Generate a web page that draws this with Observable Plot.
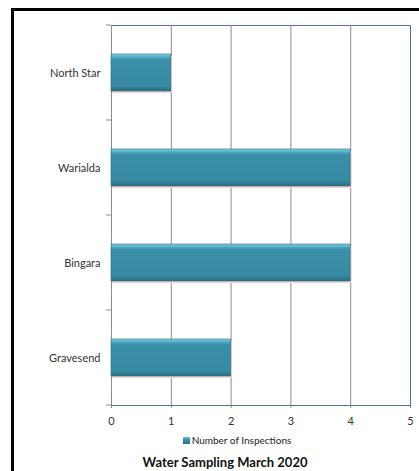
<!DOCTYPE html>
<html><head><meta charset="utf-8">
<script src="https://cdn.jsdelivr.net/npm/d3@7"></script>
<script src="https://cdn.jsdelivr.net/npm/@observablehq/plot@0.6"></script>
<style>
body{margin:0;background:#fff;width:419px;height:471px;overflow:hidden;position:relative;font-family:Lato,"Open Sans",sans-serif}
#frame{position:absolute;left:11px;top:8px;width:420px;height:470px;border-left:3px solid #000;border-top:3px solid #000;box-sizing:border-box}
#chart{position:absolute;left:0;top:0}
#chart svg text{fill:#333}
#legend{position:absolute;top:434px;left:0;width:474px;text-align:center;font-size:10px;color:#222;line-height:12px}
#legend .sw{display:inline-block;width:7px;height:7px;margin-right:2px;vertical-align:0px;background:linear-gradient(#6cc3da,#3a8da6 40%,#2d7488)}
#title{position:absolute;top:455px;left:0;width:450px;text-align:center;font-size:13px;font-weight:bold;color:#111;line-height:15px}
</style></head>
<body>
<div id="frame"></div>
<div id="chart"></div>
<div id="legend"></div>
<div id="title"></div>
<script>
const sites = ["North Star", "Warialda", "Bingara", "Gravesend"];
const inspections = [1, 4, 4, 2];
const xTicks = [0, 1, 2, 3, 4, 5];
const seriesName = "Number of Inspections";
const chartTitle = "Water Sampling March 2020";

const data = sites.map((s, i) => ({site: s, value: inspections[i]}));

const plot = Plot.plot({
  width: 419,
  height: 430,
  marginLeft: 111,
  marginRight: 9,
  marginTop: 25,
  marginBottom: 25,
  style: {fontFamily: "Lato, 'Open Sans', sans-serif", fontSize: "11px", color: "#8c8c8c", background: "transparent"},
  x: {domain: [0, 5], ticks: xTicks, tickFormat: "d", tickSize: 3, tickPadding: 9, line: true, label: null},
  y: {domain: sites, paddingInner: 0.61, paddingOuter: 0.305, tickSize: 0, tickPadding: 11, label: null},
  marks: [
    Plot.frame({stroke: "#4f6fa8"}),
    Plot.ruleX(xTicks.slice(0, -1), {stroke: "#8c8c8c"}),
    Plot.barX(data, {x: "value", y: "site", fill: "#f3d3d3", dy: 2, dx: 1}),
    Plot.barX(data, {x: "value", y: "site", fill: "url(#barGrad)", stroke: "#2a6a7c", strokeWidth: 0.6})
  ]
});
document.getElementById("chart").appendChild(plot);

const svg = d3.select(plot);
const defs = svg.insert("defs", ":first-child");
const g = defs.append("linearGradient").attr("id", "barGrad").attr("x1", 0).attr("y1", 0).attr("x2", 0).attr("y2", 1);
[[0, "#7fd0e6"], [0.1, "#4aa3bb"], [0.16, "#3a8fa7"], [0.85, "#378aa1"], [1, "#2b6f82"]].forEach(([o, c]) =>
  g.append("stop").attr("offset", o).attr("stop-color", c));

// category boundary ticks on the y axis, from the library's scales
const ys = plot.scale("y"), xs = plot.scale("x");
const x0 = xs.apply(0);
const off = (ys.step - ys.bandwidth) / 2;
const bounds = sites.map(s => ys.apply(s) - off).concat([ys.apply(sites[sites.length - 1]) - off + ys.step]);
svg.append("g").selectAll("line").data(bounds).join("line")
  .attr("x1", x0 - 5).attr("x2", x0).attr("y1", d => d).attr("y2", d => d)
  .attr("stroke", "#8c8c8c");

document.getElementById("legend").innerHTML = '<span class="sw"></span>' + seriesName;
document.getElementById("title").textContent = chartTitle;
</script>
</body></html>
